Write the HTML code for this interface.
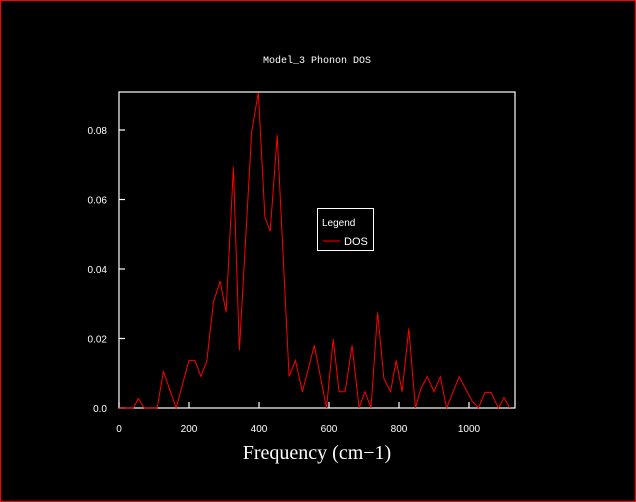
<!DOCTYPE html>
<html><head><meta charset="utf-8"><style>
html,body{margin:0;padding:0;background:#000;}
svg{display:block;}
</style></head><body>
<svg width="636" height="502" xmlns="http://www.w3.org/2000/svg">
<rect x="0.5" y="0.5" width="635" height="501" fill="#000" stroke="#f00"/>
<text x="317" y="63" fill="#fff" font-family="Liberation Mono, monospace" font-size="10" text-anchor="middle">Model_3 Phonon DOS</text>
<rect x="119" y="92" width="396" height="316" fill="none" stroke="#fff" stroke-width="1.2"/>
<g id="xt"></g>
<g id="yt"></g>
<polyline id="dos" fill="none" stroke="#f00" stroke-width="1"/>
<text x="317" y="459" fill="#fff" font-family="Liberation Serif, serif" font-size="20" text-anchor="middle">Frequency (cm−1)</text>
<g>
<rect x="317.5" y="208.5" width="56" height="42" fill="#000" stroke="#fff"/>
<text x="322" y="226" fill="#fff" font-family="Liberation Sans, sans-serif" font-size="10">Legend</text>
<line x1="323" y1="241" x2="340" y2="241" stroke="#f00"/>
<text x="344" y="245" fill="#fff" font-family="Liberation Sans, sans-serif" font-size="11">DOS</text>
</g>
</svg>
<script>
const freqs=[0,41,55,72,109,127,163,200,217,234,251,270,289,306,327,344,379,398,417,432,452,486,504,524,558,593,612,629,646,666,686,703,720,739,757,776,792,809,828,847,863,881,900,918,936,972,1009,1027,1046,1063,1084,1100,1117];
const dos=[0,0,0.0027,0,0,0.0106,0,0.0137,0.0137,0.0091,0.0135,0.0306,0.0365,0.0276,0.0693,0.0166,0.0795,0.0908,0.055,0.0508,0.0785,0.0091,0.0137,0.0047,0.018,0,0.0198,0.0047,0.0047,0.018,0,0.0047,0,0.0275,0.0085,0.0047,0.0137,0.0047,0.0229,0,0.0057,0.009,0.0047,0.009,0,0.009,0.002,0,0.0045,0.0045,0,0.003,0];
const xTicks=[0,200,400,600,800,1000];
const yTicks=[0,0.02,0.04,0.06,0.08];
const yLabels=["0.0","0.02","0.04","0.06","0.08"];
const X=v=>119+v*0.35, Y=v=>408-v*3475;
const NS="http://www.w3.org/2000/svg";
const svg=document.querySelector('svg');
const pl=document.getElementById('dos');
pl.setAttribute('points',freqs.map((f,i)=>X(f).toFixed(1)+','+Y(dos[i]).toFixed(1)).join(' '));
const xt=document.getElementById('xt'),yt=document.getElementById('yt');
xTicks.forEach(t=>{
 const l=document.createElementNS(NS,'line');
 l.setAttribute('x1',X(t));l.setAttribute('x2',X(t));l.setAttribute('y1',402);l.setAttribute('y2',408);
 l.setAttribute('stroke','#fff');l.setAttribute('stroke-width','1.2');
 
 
 xt.appendChild(l);
 const tx=document.createElementNS(NS,'text');
 tx.setAttribute('x',X(t));tx.setAttribute('y',432);tx.setAttribute('fill','#fff');
 tx.setAttribute('font-family','Liberation Sans, sans-serif');tx.setAttribute('font-size','10');tx.setAttribute('text-anchor','middle');
 tx.textContent=t;
 
 
 xt.appendChild(tx);
});
yTicks.forEach((t,i)=>{
 const l=document.createElementNS(NS,'line');
 l.setAttribute('x1',119);l.setAttribute('x2',125);l.setAttribute('y1',Y(t));l.setAttribute('y2',Y(t));
 l.setAttribute('stroke','#fff');l.setAttribute('stroke-width','1.2');
 
 
 yt.appendChild(l);
 const tx=document.createElementNS(NS,'text');
 tx.setAttribute('x',107);tx.setAttribute('y',Y(t)+4);tx.setAttribute('fill','#fff');
 tx.setAttribute('font-family','Liberation Sans, sans-serif');tx.setAttribute('font-size','10');tx.setAttribute('text-anchor','end');
 tx.textContent=yLabels[i];
 
 
 yt.appendChild(tx);
});
</script>
</body></html>
